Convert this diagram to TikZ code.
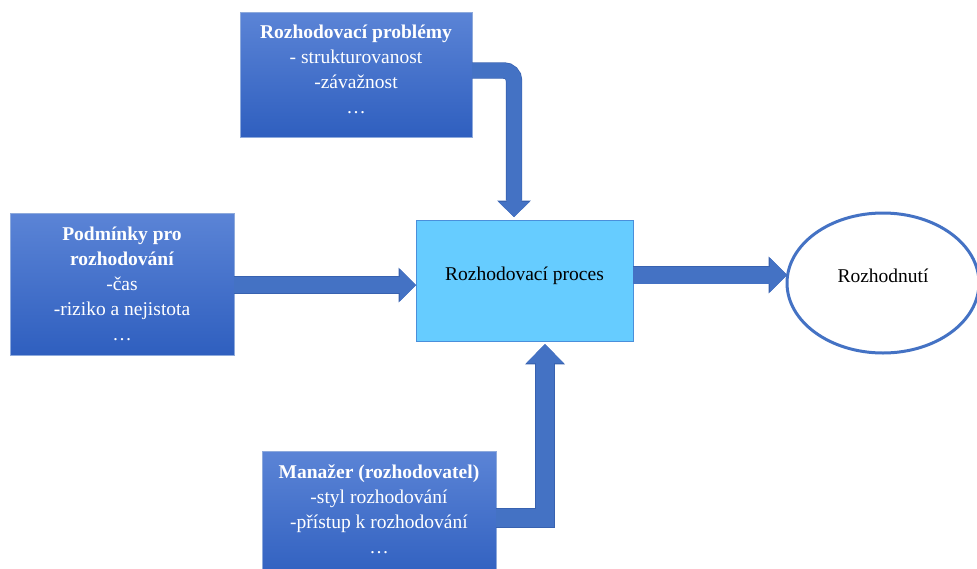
\documentclass[tikz,border=0pt]{standalone}
\usepackage{fontspec}
\setmainfont{Liberation Serif}
\usetikzlibrary{arrows.meta,shapes.geometric,calc}
\definecolor{arrowblue}{HTML}{4472C4}
\definecolor{arrowedge}{HTML}{3862B0}
\definecolor{boxtop}{HTML}{5B84D6}
\definecolor{boxbot}{HTML}{2F5FBF}
\definecolor{boxedge}{HTML}{8EAADC}
\definecolor{procfill}{HTML}{66CCFF}
\definecolor{procedge}{HTML}{4A8FDB}
\tikzset{
  srcbox/.style={rectangle, top color=boxtop, bottom color=boxbot, draw=boxedge,
    line width=0.8pt, text=white, align=center, inner sep=0pt, outer sep=0pt,
    font=\fontsize{19.5}{25}\selectfont},
  procbox/.style={rectangle, fill=procfill, draw=procedge, line width=1pt,
    inner sep=0pt, outer sep=0pt, font=\fontsize{19.5}{25}\selectfont},
  decell/.style={ellipse, fill=white, draw=arrowblue, line width=3pt,
    inner sep=0pt, outer sep=0pt, font=\fontsize{19.5}{25}\selectfont},
  blockarrow/.style n args={3}{draw=arrowblue, line width=#1, line cap=butt,
    -{Triangle[length=#2,width=#3,line width=0pt]},
    preaction={draw=arrowedge, line width=#1+1.4pt,
      -{Triangle[length=#2+1.4pt,width=#3+2.8pt,line width=0pt]}}},
}
\begin{document}
\begin{tikzpicture}[x=1pt,y=-1pt]
\fill[white] (0,0) rectangle (977,568);
\useasboundingbox (0,0) rectangle (977,568);

\node[srcbox, minimum width=232pt, minimum height=125pt] (prob) at (356,74.5)
  {\textbf{Rozhodovací problémy}\\- strukturovanost\\-závažnost\\…\rule[-10pt]{0pt}{0pt}};
\node[srcbox, minimum width=224pt, minimum height=142pt] (cond) at (122,284)
  {\textbf{Podmínky pro}\\\textbf{rozhodování}\\-čas\\-riziko a nejistota\\…};
\node[srcbox, minimum width=234pt, minimum height=132pt] (man) at (379,517)
  {\textbf{Manažer (rozhodovatel)}\\-styl rozhodování\\-přístup k rozhodování\\…\rule[-15pt]{0pt}{0pt}};
\node[procbox, minimum width=217pt, minimum height=121pt] (proc) at (524.5,280.5)
  {Rozhodovací proces\rule[-13pt]{0pt}{0pt}};
\node[decell, minimum width=192pt, minimum height=140pt] (dec) at (883,283)
  {Rozhodnutí\rule[-14pt]{0pt}{0pt}};

\draw[blockarrow={16pt}{16pt}{32pt}] (cond.east |- 0,285) -- (proc.west |- 0,285);
\draw[blockarrow={17pt}{17pt}{34pt}] (proc.east |- 0,275) -- (dec.west |- 0,275);
\draw[blockarrow={15pt}{15pt}{31pt}, rounded corners=10pt] (prob.east |- 0,70.5) -| (514,217);
\draw[blockarrow={18pt}{19pt}{37pt}] (man.east |- 0,518) -| (545,344);
\end{tikzpicture}
\end{document}
